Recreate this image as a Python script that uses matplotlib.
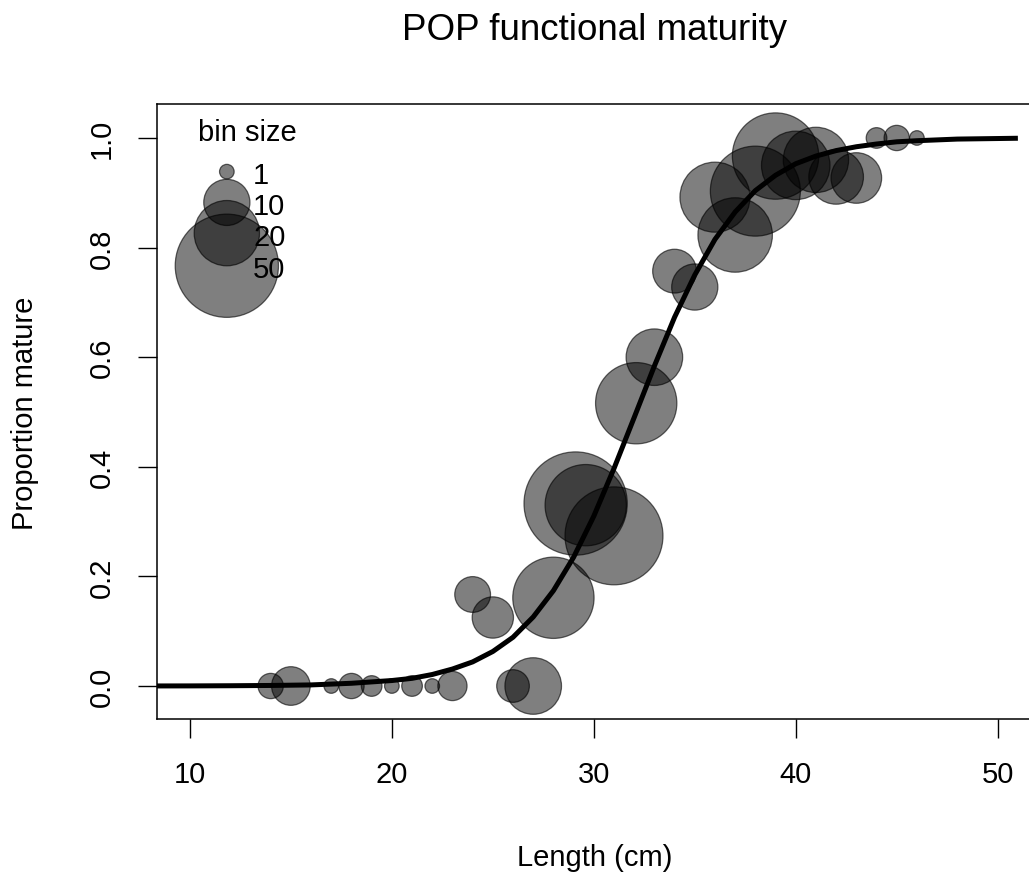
import numpy as np
import matplotlib
matplotlib.use("Agg")
import matplotlib.pyplot as plt

plt.rcParams['font.family'] = ['Liberation Sans', 'DejaVu Sans']

# binned observations: length, proportion mature, number of fish in bin
length = [14, 15, 17, 18, 19, 20, 21, 22, 23, 24, 25, 26, 27, 28, 29.1, 29.6,
          31, 32.1, 33, 34, 35, 36, 37, 38, 39, 40, 41, 42, 43, 44, 45, 46]
prop = [0, 0, 0, 0, 0, 0, 0, 0, 0, 0.167, 0.125, 0, 0, 0.161, 0.333, 0.33,
        0.274, 0.516, 0.60, 0.757, 0.728, 0.892, 0.823, 0.903, 0.967, 0.95,
        0.96, 0.929, 0.927, 1.0, 1.0, 1.0]
nbin = [3, 7, 1, 3, 2, 1, 2, 1, 4, 6, 8, 5, 15, 31, 50, 31,
        45, 31, 15, 9, 10, 23, 26, 38, 35, 22, 20, 14, 12, 2, 3, 1]

# fitted maturity curve
fit_len = [8, 10, 12, 14, 16, 18, 20, 21, 22, 23, 24, 25, 26, 27, 28, 29, 30,
           31, 32, 33, 34, 35, 36, 37, 38, 39, 40, 41, 42, 43, 44, 45, 46, 48,
           50, 51]
fit_prop = [0.0001, 0.0002, 0.0005, 0.001, 0.002, 0.005, 0.010, 0.014, 0.021,
            0.031, 0.044, 0.063, 0.089, 0.126, 0.174, 0.235, 0.31, 0.397,
            0.49, 0.584, 0.673, 0.75, 0.815, 0.865, 0.904, 0.932, 0.953,
            0.967, 0.977, 0.984, 0.989, 0.993, 0.995, 0.998, 0.999, 0.9995]

legend_n = [1, 10, 20, 50]
legend_y = [0.890, 0.840, 0.790, 0.737]

W, H = 1029, 879
fig = plt.figure(figsize=(W / 100, H / 100), dpi=100)
ax = fig.add_axes([157 / W, 1 - 720 / H, (1030 - 157) / W, (720 - 105) / H])

size_k = 110.5
face = (0, 0, 0, 0.5)
edge = (0, 0, 0, 0.6)

ax.scatter(length, prop, s=[size_k * n for n in nbin], facecolor=face,
           edgecolor=edge, linewidth=0.9, zorder=2)
ax.plot(fit_len, fit_prop, color='black', linewidth=3.6, zorder=3,
        solid_capstyle='butt')

# bubble legend
ax.scatter([0.080] * len(legend_n), legend_y, s=[size_k * n for n in legend_n],
           facecolor=face, edgecolor=edge, linewidth=0.9,
           transform=ax.transAxes, zorder=4, clip_on=False)
for n, yy in zip(legend_n, legend_y):
    ax.text(0.110, yy - 0.006, str(n), transform=ax.transAxes, fontsize=21,
            ha='left', va='center', zorder=5)
ax.text(0.104, 0.955, 'bin size', transform=ax.transAxes, fontsize=21,
        ha='center', va='center')

ax.set_xlim(8.37, 51.6)
ax.set_ylim(-0.0602, 1.0620)
ax.set_xticks([10, 20, 30, 40, 50])
ax.set_yticks([0, 0.2, 0.4, 0.6, 0.8, 1.0])
ax.set_yticklabels(['0.0', '0.2', '0.4', '0.6', '0.8', '1.0'])
ax.tick_params(axis='both', direction='out', length=13.5, width=1.0,
               labelsize=21, colors='black')
ax.tick_params(axis='x', pad=16)
ax.tick_params(axis='y', pad=16)
for lab in ax.get_yticklabels():
    lab.set_rotation(90)
    lab.set_va('center')
for sp in ax.spines.values():
    sp.set_linewidth(1.1)

fig.text(595 / W, 1 - 30 / H, 'POP functional maturity', fontsize=26.5,
         ha='center', va='center')
fig.text(595 / W, 1 - 858 / H, 'Length (cm)', fontsize=21,
         ha='center', va='center')
fig.text(25 / W, 1 - 413 / H, 'Proportion mature', fontsize=21,
         ha='center', va='center', rotation=90)

fig.savefig('out.png', dpi=100)
